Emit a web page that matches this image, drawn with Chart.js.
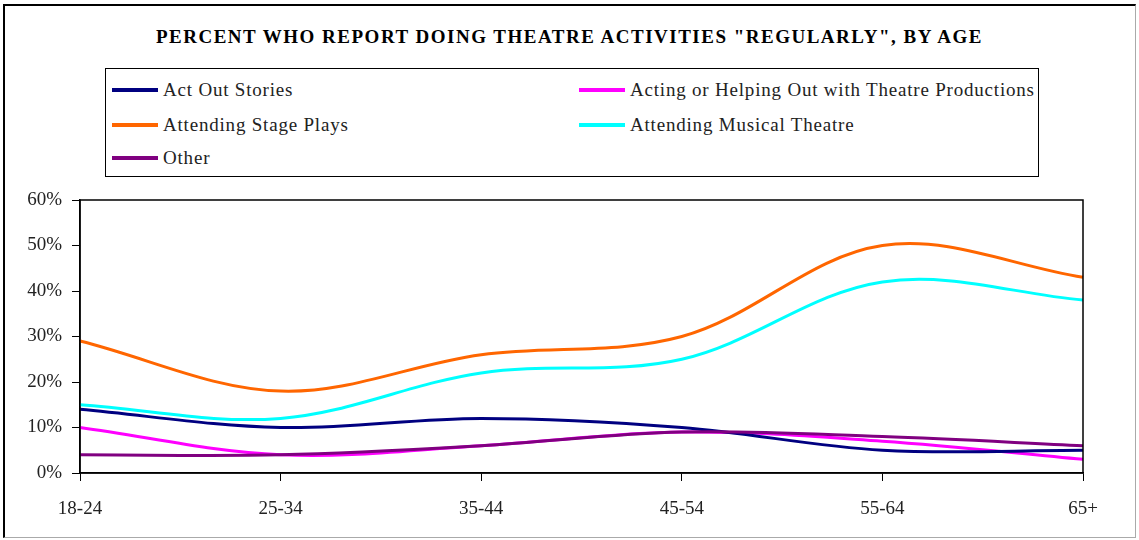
<!DOCTYPE html>
<html>
<head>
<meta charset="utf-8">
<script src="https://cdn.jsdelivr.net/npm/chart.js@4.4.1/dist/chart.umd.min.js"></script>
<style>
  html, body { margin: 0; padding: 0; background: #fff; }
  #wrap { position: relative; width: 1139px; height: 540px; }
  #frame {
    position: absolute; left: 3px; top: 4px; width: 1133px; height: 534px;
    border-top: 2px solid #000; border-left: 2px solid #000;
    border-right: 1px solid #aaa; border-bottom: 1px solid #aaa;
    box-sizing: border-box;
  }
  #title {
    position: absolute; left: 0; top: 26px; width: 1139px; text-align: center;
    font: bold 19px "Liberation Serif", serif; letter-spacing: 1.5px; color: #000;
  }
  #legend {
    position: absolute; left: 105px; top: 68px; width: 934px; height: 109px;
    border: 1px solid #000; box-sizing: border-box;
    font: 19px "Liberation Serif", serif; letter-spacing: 0.8px; color: #222;
  }
  .item { position: absolute; height: 20px; line-height: 20px; white-space: nowrap; }
  .item i { position: absolute; left: 0; top: 8px; width: 46px; height: 4px; }
  .item span { position: absolute; left: 51px; top: 0; }
  canvas { position: absolute; left: 0; top: 0; }
</style>
</head>
<body>
<div id="wrap">
  <div id="frame"></div>
  <div id="title">PERCENT WHO REPORT DOING THEATRE ACTIVITIES "REGULARLY", BY AGE</div>
  <div id="legend"></div>
  <canvas id="chart" width="1139" height="540"></canvas>
</div>
<script>
  // Chart data
  const ageGroups = ['18-24', '25-34', '35-44', '45-54', '55-64', '65+'];
  const actOutStories = [14, 10, 12, 10, 5, 5];
  const actingHelping = [10, 4, 6, 9, 7, 3];
  const stagePlays = [29, 18, 26, 30, 50, 43];
  const musicalTheatre = [15, 12, 22, 25, 42, 38];
  const otherActivities = [4, 4, 6, 9, 8, 6];

  const seriesNames = [
    'Act Out Stories',
    'Acting or Helping Out with Theatre Productions',
    'Attending Stage Plays',
    'Attending Musical Theatre',
    'Other'
  ];
  const seriesColors = ['#000080', '#FF00FF', '#FF6600', '#00FFFF', '#800080'];
  const seriesData = [actOutStories, actingHelping, stagePlays, musicalTheatre, otherActivities];
  const yTicks = [0, 10, 20, 30, 40, 50, 60];

  const serif = '"Liberation Serif", serif';

  // Box around the plot area
  const plotBox = {
    id: 'plotBox',
    afterDraw(chart) {
      const a = chart.chartArea;
      const ctx = chart.ctx;
      ctx.save();
      ctx.strokeStyle = '#000';
      ctx.lineWidth = 1.5;
      ctx.strokeRect(a.left, a.top, a.right - a.left, a.bottom - a.top);
      ctx.restore();
    }
  };

  const datasets = seriesData.map((values, i) => ({
    label: seriesNames[i],
    data: values,
    borderColor: seriesColors[i],
    backgroundColor: seriesColors[i],
    borderWidth: 3,
    pointRadius: 0,
    tension: 0.35,
    fill: false,
    order: i === 4 ? 0 : i + 1
  }));

  const chart = new Chart(document.getElementById('chart'), {
    type: 'line',
    data: { labels: ageGroups, datasets: datasets },
    options: {
      responsive: false,
      animation: false,
      layout: { padding: { top: 200, right: 56, bottom: 0, left: 0 } },
      plugins: {
        legend: { display: false },
        title: { display: false },
        tooltip: { enabled: false }
      },
      scales: {
        x: {
          offset: false,
          afterFit: (scale) => { scale.height = 67; },
          grid: { drawOnChartArea: false, color: '#000', tickLength: 8, lineWidth: 1 },
          border: { color: '#000', width: 1.5 },
          ticks: { color: '#222', padding: 17, maxRotation: 0, font: { family: serif, size: 19 } }
        },
        y: {
          min: 0,
          max: 60,
          afterFit: (scale) => { scale.width = 80; },
          afterBuildTicks: (scale) => { scale.ticks = yTicks.map(v => ({ value: v })); },
          grid: { drawOnChartArea: false, color: '#000', tickLength: 8, lineWidth: 1 },
          border: { color: '#000', width: 1.5 },
          ticks: {
            color: '#222', padding: 10, font: { family: serif, size: 19 },
            callback: (v) => v + '%'
          }
        }
      }
    },
    plugins: [plotBox]
  });

  // Build the legend box (two columns, three rows)
  const legend = document.getElementById('legend');
  const cols = [6, 473];
  const rows = [11, 46, 79];
  seriesNames.forEach((name, i) => {
    const item = document.createElement('div');
    item.className = 'item';
    item.style.left = cols[i % 2] + 'px';
    item.style.top = rows[Math.floor(i / 2)] + 'px';
    item.innerHTML = `<i style="background:${seriesColors[i]}"></i><span>${name}</span>`;
    legend.appendChild(item);
  });
</script>
</body>
</html>
